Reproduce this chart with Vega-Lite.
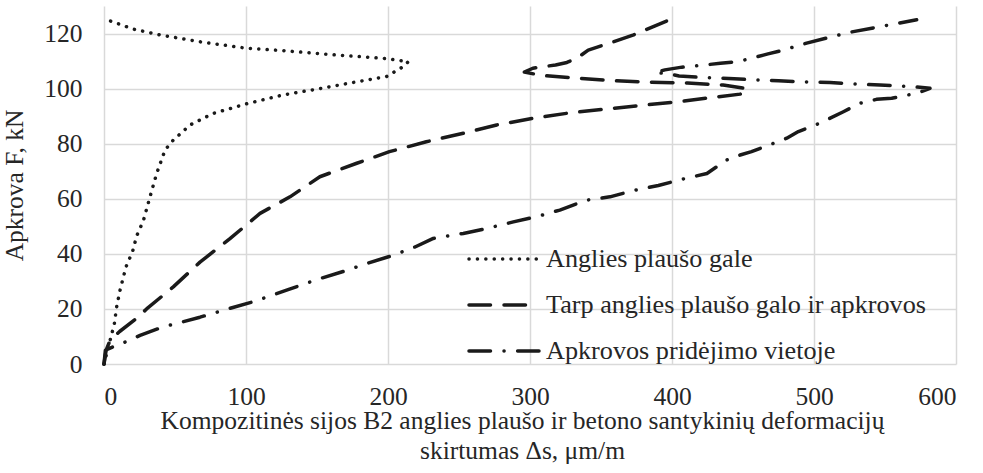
{
  "$schema": "https://vega.github.io/schema/vega-lite/v6.json",
  "width": 852,
  "height": 358,
  "autosize": {"type": "none"},
  "padding": {"left": 104, "top": 6, "right": 27, "bottom": 109},
  "background": "white",
  "config": {
    "font": "Liberation Serif",
    "view": {"stroke": null},
    "axis": {
      "domain": false,
      "ticks": false,
      "tickSize": 0,
      "grid": true,
      "gridColor": "#d9d9d9",
      "gridWidth": 1.5,
      "labelFont": "Liberation Serif",
      "labelFontSize": 25.5,
      "labelColor": "#262626",
      "titleFont": "Liberation Serif",
      "titleFontSize": 25.5,
      "titleFontWeight": "normal",
      "titleColor": "#262626"
    }
  },
  "datasets": {
    "deformacijos": [
      {"serija": "Anglies plaušo gale", "ds": 0, "F": 0},
      {"serija": "Anglies plaušo gale", "ds": 3, "F": 6},
      {"serija": "Anglies plaušo gale", "ds": 5.8, "F": 11.6},
      {"serija": "Anglies plaušo gale", "ds": 7.3, "F": 14.7},
      {"serija": "Anglies plaušo gale", "ds": 8.9, "F": 20.7},
      {"serija": "Anglies plaušo gale", "ds": 11.3, "F": 26.8},
      {"serija": "Anglies plaušo gale", "ds": 15.5, "F": 35.3},
      {"serija": "Anglies plaušo gale", "ds": 20.2, "F": 41},
      {"serija": "Anglies plaušo gale", "ds": 23, "F": 46.5},
      {"serija": "Anglies plaušo gale", "ds": 27.7, "F": 52},
      {"serija": "Anglies plaušo gale", "ds": 32.4, "F": 60.7},
      {"serija": "Anglies plaušo gale", "ds": 37.1, "F": 69.2},
      {"serija": "Anglies plaušo gale", "ds": 43, "F": 77.7},
      {"serija": "Anglies plaušo gale", "ds": 48.8, "F": 81.3},
      {"serija": "Anglies plaušo gale", "ds": 60.6, "F": 86.8},
      {"serija": "Anglies plaušo gale", "ds": 77, "F": 91},
      {"serija": "Anglies plaušo gale", "ds": 99.8, "F": 94.4},
      {"serija": "Anglies plaušo gale", "ds": 126, "F": 97.7},
      {"serija": "Anglies plaušo gale", "ds": 149.8, "F": 99.8},
      {"serija": "Anglies plaušo gale", "ds": 173, "F": 102},
      {"serija": "Anglies plaušo gale", "ds": 199, "F": 104.4},
      {"serija": "Anglies plaušo gale", "ds": 210.8, "F": 108},
      {"serija": "Anglies plaušo gale", "ds": 214.3, "F": 109.8},
      {"serija": "Anglies plaušo gale", "ds": 196.7, "F": 111},
      {"serija": "Anglies plaušo gale", "ds": 161.4, "F": 112.3},
      {"serija": "Anglies plaušo gale", "ds": 126, "F": 113.8},
      {"serija": "Anglies plaušo gale", "ds": 99.8, "F": 114.7},
      {"serija": "Anglies plaušo gale", "ds": 67.6, "F": 117},
      {"serija": "Anglies plaušo gale", "ds": 39.4, "F": 119.5},
      {"serija": "Anglies plaušo gale", "ds": 20.7, "F": 121.6},
      {"serija": "Anglies plaušo gale", "ds": 1.9, "F": 125},

      {"serija": "Tarp anglies plaušo galo ir apkrovos", "ds": 0, "F": 0},
      {"serija": "Tarp anglies plaušo galo ir apkrovos", "ds": 1.5, "F": 5},
      {"serija": "Tarp anglies plaušo galo ir apkrovos", "ds": 4.2, "F": 8.5},
      {"serija": "Tarp anglies plaušo galo ir apkrovos", "ds": 11, "F": 11.8},
      {"serija": "Tarp anglies plaušo galo ir apkrovos", "ds": 24, "F": 17},
      {"serija": "Tarp anglies plaušo galo ir apkrovos", "ds": 30, "F": 20},
      {"serija": "Tarp anglies plaušo galo ir apkrovos", "ds": 48.8, "F": 28},
      {"serija": "Tarp anglies plaušo galo ir apkrovos", "ds": 67.6, "F": 37},
      {"serija": "Tarp anglies plaušo galo ir apkrovos", "ds": 88.7, "F": 45.5},
      {"serija": "Tarp anglies plaušo galo ir apkrovos", "ds": 109.9, "F": 54.7},
      {"serija": "Tarp anglies plaušo galo ir apkrovos", "ds": 131, "F": 60.7},
      {"serija": "Tarp anglies plaušo galo ir apkrovos", "ds": 152, "F": 68},
      {"serija": "Tarp anglies plaušo galo ir apkrovos", "ds": 178, "F": 72.9},
      {"serija": "Tarp anglies plaušo galo ir apkrovos", "ds": 201, "F": 77.1},
      {"serija": "Tarp anglies plaušo galo ir apkrovos", "ds": 227, "F": 80.7},
      {"serija": "Tarp anglies plaušo galo ir apkrovos", "ds": 253, "F": 83.8},
      {"serija": "Tarp anglies plaušo galo ir apkrovos", "ds": 276.5, "F": 86.8},
      {"serija": "Tarp anglies plaušo galo ir apkrovos", "ds": 302, "F": 89.2},
      {"serija": "Tarp anglies plaušo galo ir apkrovos", "ds": 328, "F": 91.2},
      {"serija": "Tarp anglies plaušo galo ir apkrovos", "ds": 354, "F": 92.6},
      {"serija": "Tarp anglies plaušo galo ir apkrovos", "ds": 380, "F": 94},
      {"serija": "Tarp anglies plaušo galo ir apkrovos", "ds": 405, "F": 95.3},
      {"serija": "Tarp anglies plaušo galo ir apkrovos", "ds": 430, "F": 96.9},
      {"serija": "Tarp anglies plaušo galo ir apkrovos", "ds": 448, "F": 98},
      {"serija": "Tarp anglies plaušo galo ir apkrovos", "ds": 453, "F": 100},
      {"serija": "Tarp anglies plaušo galo ir apkrovos", "ds": 436, "F": 101.3},
      {"serija": "Tarp anglies plaušo galo ir apkrovos", "ds": 411, "F": 102},
      {"serija": "Tarp anglies plaušo galo ir apkrovos", "ds": 384, "F": 102.3},
      {"serija": "Tarp anglies plaušo galo ir apkrovos", "ds": 358, "F": 102.9},
      {"serija": "Tarp anglies plaušo galo ir apkrovos", "ds": 333, "F": 103.8},
      {"serija": "Tarp anglies plaušo galo ir apkrovos", "ds": 308, "F": 104.8},
      {"serija": "Tarp anglies plaušo galo ir apkrovos", "ds": 296, "F": 106},
      {"serija": "Tarp anglies plaušo galo ir apkrovos", "ds": 302, "F": 107.4},
      {"serija": "Tarp anglies plaušo galo ir apkrovos", "ds": 318, "F": 108.6},
      {"serija": "Tarp anglies plaušo galo ir apkrovos", "ds": 326, "F": 109.5},
      {"serija": "Tarp anglies plaušo galo ir apkrovos", "ds": 333, "F": 111},
      {"serija": "Tarp anglies plaušo galo ir apkrovos", "ds": 341, "F": 114},
      {"serija": "Tarp anglies plaušo galo ir apkrovos", "ds": 357, "F": 116.7},
      {"serija": "Tarp anglies plaušo galo ir apkrovos", "ds": 373, "F": 119.5},
      {"serija": "Tarp anglies plaušo galo ir apkrovos", "ds": 401, "F": 125.6},

      {"serija": "Apkrovos pridėjimo vietoje", "ds": 0, "F": 0},
      {"serija": "Apkrovos pridėjimo vietoje", "ds": 1, "F": 5},
      {"serija": "Apkrovos pridėjimo vietoje", "ds": 8.9, "F": 6.8},
      {"serija": "Apkrovos pridėjimo vietoje", "ds": 17, "F": 8.4},
      {"serija": "Apkrovos pridėjimo vietoje", "ds": 25.4, "F": 10.4},
      {"serija": "Apkrovos pridėjimo vietoje", "ds": 41.8, "F": 13.5},
      {"serija": "Apkrovos pridėjimo vietoje", "ds": 51, "F": 14.7},
      {"serija": "Apkrovos pridėjimo vietoje", "ds": 67.6, "F": 17},
      {"serija": "Apkrovos pridėjimo vietoje", "ds": 84, "F": 19.5},
      {"serija": "Apkrovos pridėjimo vietoje", "ds": 105, "F": 22.6},
      {"serija": "Apkrovos pridėjimo vietoje", "ds": 128.6, "F": 26.8},
      {"serija": "Apkrovos pridėjimo vietoje", "ds": 152, "F": 31},
      {"serija": "Apkrovos pridėjimo vietoje", "ds": 171, "F": 34},
      {"serija": "Apkrovos pridėjimo vietoje", "ds": 185, "F": 36.5},
      {"serija": "Apkrovos pridėjimo vietoje", "ds": 203.7, "F": 39.5},
      {"serija": "Apkrovos pridėjimo vietoje", "ds": 219, "F": 42.5},
      {"serija": "Apkrovos pridėjimo vietoje", "ds": 231.9, "F": 45.6},
      {"serija": "Apkrovos pridėjimo vietoje", "ds": 253, "F": 47.4},
      {"serija": "Apkrovos pridėjimo vietoje", "ds": 269.5, "F": 49.2},
      {"serija": "Apkrovos pridėjimo vietoje", "ds": 288.3, "F": 51.6},
      {"serija": "Apkrovos pridėjimo vietoje", "ds": 304.7, "F": 53.5},
      {"serija": "Apkrovos pridėjimo vietoje", "ds": 321, "F": 55.9},
      {"serija": "Apkrovos pridėjimo vietoje", "ds": 339.9, "F": 59.5},
      {"serija": "Apkrovos pridėjimo vietoje", "ds": 356.3, "F": 60.7},
      {"serija": "Apkrovos pridėjimo vietoje", "ds": 372.8, "F": 63},
      {"serija": "Apkrovos pridėjimo vietoje", "ds": 390.4, "F": 64.8},
      {"serija": "Apkrovos pridėjimo vietoje", "ds": 408, "F": 67.2},
      {"serija": "Apkrovos pridėjimo vietoje", "ds": 424.6, "F": 69.2},
      {"serija": "Apkrovos pridėjimo vietoje", "ds": 438.5, "F": 74.1},
      {"serija": "Apkrovos pridėjimo vietoje", "ds": 448, "F": 75.9},
      {"serija": "Apkrovos pridėjimo vietoje", "ds": 456, "F": 77.1},
      {"serija": "Apkrovos pridėjimo vietoje", "ds": 471.3, "F": 80.1},
      {"serija": "Apkrovos pridėjimo vietoje", "ds": 480.8, "F": 82},
      {"serija": "Apkrovos pridėjimo vietoje", "ds": 489, "F": 84.4},
      {"serija": "Apkrovos pridėjimo vietoje", "ds": 504, "F": 87.4},
      {"serija": "Apkrovos pridėjimo vietoje", "ds": 520.7, "F": 91.6},
      {"serija": "Apkrovos pridėjimo vietoje", "ds": 532.4, "F": 94.7},
      {"serija": "Apkrovos pridėjimo vietoje", "ds": 544, "F": 96.1},
      {"serija": "Apkrovos pridėjimo vietoje", "ds": 554.7, "F": 96.5},
      {"serija": "Apkrovos pridėjimo vietoje", "ds": 572.3, "F": 98.3},
      {"serija": "Apkrovos pridėjimo vietoje", "ds": 581.7, "F": 100.1},
      {"serija": "Apkrovos pridėjimo vietoje", "ds": 570, "F": 100.7},
      {"serija": "Apkrovos pridėjimo vietoje", "ds": 546.5, "F": 101.3},
      {"serija": "Apkrovos pridėjimo vietoje", "ds": 527.7, "F": 101.7},
      {"serija": "Apkrovos pridėjimo vietoje", "ds": 511.3, "F": 102.2},
      {"serija": "Apkrovos pridėjimo vietoje", "ds": 490, "F": 102.5},
      {"serija": "Apkrovos pridėjimo vietoje", "ds": 475, "F": 102.9},
      {"serija": "Apkrovos pridėjimo vietoje", "ds": 457, "F": 103.2},
      {"serija": "Apkrovos pridėjimo vietoje", "ds": 440, "F": 103.7},
      {"serija": "Apkrovos pridėjimo vietoje", "ds": 422, "F": 104},
      {"serija": "Apkrovos pridėjimo vietoje", "ds": 405, "F": 104.6},
      {"serija": "Apkrovos pridėjimo vietoje", "ds": 396, "F": 105.5},
      {"serija": "Apkrovos pridėjimo vietoje", "ds": 388, "F": 105.8},
      {"serija": "Apkrovos pridėjimo vietoje", "ds": 395, "F": 106.8},
      {"serija": "Apkrovos pridėjimo vietoje", "ds": 407, "F": 107.8},
      {"serija": "Apkrovos pridėjimo vietoje", "ds": 416, "F": 108.2},
      {"serija": "Apkrovos pridėjimo vietoje", "ds": 434, "F": 109.2},
      {"serija": "Apkrovos pridėjimo vietoje", "ds": 442, "F": 109.6},
      {"serija": "Apkrovos pridėjimo vietoje", "ds": 451, "F": 110.4},
      {"serija": "Apkrovos pridėjimo vietoje", "ds": 467.6, "F": 112.6},
      {"serija": "Apkrovos pridėjimo vietoje", "ds": 477, "F": 113.8},
      {"serija": "Apkrovos pridėjimo vietoje", "ds": 494.8, "F": 116.5},
      {"serija": "Apkrovos pridėjimo vietoje", "ds": 511.3, "F": 118.7},
      {"serija": "Apkrovos pridėjimo vietoje", "ds": 527.7, "F": 120.7},
      {"serija": "Apkrovos pridėjimo vietoje", "ds": 546.5, "F": 122.5},
      {"serija": "Apkrovos pridėjimo vietoje", "ds": 572.3, "F": 125}
    ]
  },
  "data": {"name": "deformacijos"},
  "mark": {
    "type": "line",
    "color": "#1a1a1a",
    "strokeWidth": 3.5,
    "strokeCap": "round",
    "strokeJoin": "round"
  },
  "encoding": {
    "x": {
      "field": "ds",
      "type": "quantitative",
      "scale": {"domain": [0, 600], "nice": false, "zero": false},
      "axis": {
        "values": [0, 100, 200, 300, 400, 500, 600],
        "labelPadding": 40,
        "labelBaseline": "alphabetic",
        "title": ["Kompozitinės sijos B2 anglies plaušo ir betono santykinių deformacijų", "skirtumas Δs, μm/m"],
        "titleX": 418,
        "titleY": 64,
        "titleBaseline": "alphabetic",
        "titleLineHeight": 30,
        "titleAnchor": "middle"
      }
    },
    "y": {
      "field": "F",
      "type": "quantitative",
      "scale": {"domain": [0, 130], "nice": false},
      "axis": {
        "values": [0, 20, 40, 60, 80, 100, 120],
        "labelPadding": 22,
        "title": "Apkrova F, kN",
        "titleAngle": -90,
        "titleBaseline": "alphabetic",
        "titleX": -82,
        "titleY": 179,
        "titleAnchor": "middle"
      }
    },
    "strokeDash": {
      "field": "serija",
      "type": "nominal",
      "scale": {
        "domain": ["Anglies plaušo gale", "Tarp anglies plaušo galo ir apkrovos", "Apkrovos pridėjimo vietoje"],
        "range": [[0.1, 8.3], [21.5, 13.5], [21.5, 13.5, 0.1, 13.5]]
      },
      "legend": {
        "title": null,
        "orient": "none",
        "legendX": 363,
        "legendY": 240,
        "symbolType": "stroke",
        "symbolSize": 4900,
        "symbolStrokeWidth": 3.5,
        "symbolStrokeColor": "#1a1a1a",
        "labelFont": "Liberation Serif",
        "labelFontSize": 26.2,
        "labelColor": "#262626",
        "labelOffset": 5,
        "labelLimit": 0,
        "clipHeight": 26,
        "rowPadding": 19,
        "encode": {"symbols": {"update": {"strokeCap": {"value": "round"}}}}
      }
    },
    "order": {"value": null}
  }
}
